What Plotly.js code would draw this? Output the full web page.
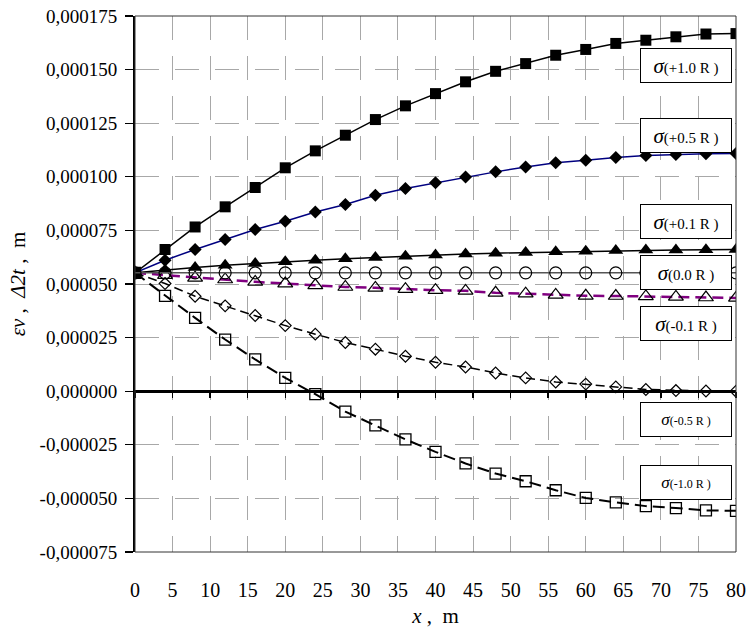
<!DOCTYPE html>
<html><head><meta charset="utf-8">
<script src="https://cdn.plot.ly/plotly-3.0.1.min.js"></script>
<style>html,body{margin:0;padding:0;background:#fff}#chart{width:747px;height:637px}</style>
</head><body><div id="chart"></div>
<script>
const xValues = [0, 4, 8, 12, 16, 20, 24, 28, 32, 36, 40, 44, 48, 52, 56, 60, 64, 68, 72, 76, 80];

const sigmaPlus10 = [55.2e-6, 66.1e-6, 76.6e-6, 86.0e-6, 95.0e-6, 104.2e-6, 112.1e-6, 119.4e-6, 126.7e-6, 133.1e-6, 138.8e-6,
  144.3e-6, 149.2e-6, 152.8e-6, 156.7e-6, 159.4e-6, 162.2e-6, 163.7e-6, 165.3e-6, 166.6e-6, 166.8e-6];
const sigmaPlus05 = [55.2e-6, 61.1e-6, 66.1e-6, 70.8e-6, 75.4e-6, 79.3e-6, 83.6e-6, 87.1e-6, 91.4e-6, 94.5e-6, 97.2e-6,
  99.9e-6, 102.3e-6, 104.6e-6, 106.5e-6, 107.7e-6, 109.0e-6, 109.9e-6, 110.4e-6, 110.7e-6, 110.9e-6];
const sigmaPlus01 = [55.2e-6, 56.5e-6, 57.7e-6, 58.7e-6, 59.6e-6, 60.4e-6, 61.1e-6, 61.8e-6, 62.4e-6, 63.0e-6, 63.5e-6,
  64.0e-6, 64.4e-6, 64.7e-6, 65.0e-6, 65.3e-6, 65.6e-6, 65.8e-6, 65.9e-6, 66.0e-6, 66.1e-6];
const sigmaZero = [55.2e-6, 55.2e-6, 55.2e-6, 55.2e-6, 55.2e-6, 55.2e-6, 55.2e-6, 55.2e-6, 55.2e-6, 55.2e-6, 55.2e-6,
  55.2e-6, 55.2e-6, 55.2e-6, 55.2e-6, 55.2e-6, 55.2e-6, 55.2e-6, 55.2e-6, 55.2e-6, 55.2e-6];
const sigmaMinus01 = [55.2e-6, 54.1e-6, 52.9e-6, 52.1e-6, 51.0e-6, 50.2e-6, 49.4e-6, 48.6e-6, 48.2e-6, 47.6e-6, 47.1e-6,
  46.8e-6, 45.9e-6, 45.5e-6, 44.9e-6, 44.5e-6, 44.4e-6, 44.2e-6, 44.0e-6, 43.7e-6, 43.5e-6];
const sigmaMinus05 = [55.2e-6, 50.2e-6, 44.3e-6, 39.8e-6, 35.3e-6, 30.6e-6, 26.6e-6, 22.7e-6, 19.6e-6, 16.3e-6, 13.5e-6,
  11.3e-6, 8.5e-6, 6.2e-6, 4.3e-6, 3.3e-6, 2.0e-6, 0.8e-6, 0.3e-6, 0.1e-6, 0.0];
const sigmaMinus10 = [55.2e-6, 44.5e-6, 34.2e-6, 24.1e-6, 14.8e-6, 6.2e-6, -1.4e-6, -9.5e-6, -15.9e-6, -22.5e-6, -28.3e-6,
  -33.7e-6, -38.4e-6, -42.0e-6, -46.2e-6, -49.8e-6, -51.9e-6, -53.6e-6, -54.5e-6, -55.6e-6, -55.8e-6];

const seriesLabels = ['(+1.0 R )', '(+0.5 R )', '(+0.1 R )', '(0.0 R )', '(-0.1 R )', '(-0.5 R )', '(-1.0 R )'];
const yTickValues = [-75e-6, -50e-6, -25e-6, 0, 25e-6, 50e-6, 75e-6, 100e-6, 125e-6, 150e-6, 175e-6];
const yTickLabels = ['-0,000075', '-0,000050', '-0,000025', '0,000000', '0,000025', '0,000050', '0,000075',
  '0,000100', '0,000125', '0,000150', '0,000175'];
const xTickValues = [0, 5, 10, 15, 20, 25, 30, 35, 40, 45, 50, 55, 60, 65, 70, 75, 80];

const serif = 'Liberation Serif';

function trace(y, lineStyle, markerStyle, xaxis) {
  return {
    x: xValues, y: y, type: 'scatter', mode: 'lines+markers',
    line: lineStyle, marker: markerStyle, xaxis: xaxis || 'x', yaxis: 'y',
    hoverinfo: 'skip', showlegend: false
  };
}

const data = [
  trace(sigmaMinus10, {color: '#000', width: 2, dash: '12px,6px'},
        {symbol: 'square-open', size: 11, color: '#000', line: {width: 1.3}}),
  trace(sigmaMinus05, {color: '#000', width: 1.5, dash: '9px,5px'},
        {symbol: 'diamond-open', size: 9, color: '#000', line: {width: 1.2}}),
  trace(sigmaMinus01, {color: '#800080', width: 2.5, dash: '11px,6px'},
        {symbol: 'triangle-up-open', size: 13, color: '#000', line: {width: 1.2}}),
  trace(sigmaZero, {color: '#555', width: 1.5},
        {symbol: 'circle-open', size: 12, color: '#000', line: {width: 1.2}}, 'x2'),
  trace(sigmaPlus01, {color: '#000', width: 1.5},
        {symbol: 'triangle-up', size: 13, color: '#000'}),
  trace(sigmaPlus05, {color: '#000080', width: 1.5},
        {symbol: 'diamond', size: 10, color: '#000'}),
  trace(sigmaPlus10, {color: '#000', width: 1.5},
        {symbol: 'square', size: 11, color: '#000'})
];

const boxY = [0.908, 0.777, 0.617, 0.522, 0.427, 0.248, 0.130];
const annotations = seriesLabels.map(function (lab, i) {
  const small = i >= 5;
  return {
    xref: 'paper', yref: 'paper', x: 0.993, y: boxY[i], xanchor: 'right', yanchor: 'middle',
    text: '<span style="font-size:' + (small ? 17 : 21) + 'px"><i>σ</i></span>' + lab,
    showarrow: false, font: {family: serif, size: small ? 12 : 15, color: '#000'},
    bgcolor: '#fff', bordercolor: '#000', borderwidth: 1, borderpad: 1,
    width: 88, height: 31, align: 'center', valign: 'middle'
  };
});

const gridDash = '24px,16px';
const gridColor = '#a8a8a8';

const layout = {
  width: 747, height: 637,
  margin: {l: 135, r: 11, t: 16, b: 85},
  paper_bgcolor: '#fff', plot_bgcolor: '#fff',
  font: {family: serif, color: '#000'},
  showlegend: false,
  xaxis: {
    range: [0, 80], tickvals: xTickValues, ticktext: xTickValues.map(String),
    showgrid: true, gridcolor: gridColor, gridwidth: 1, griddash: gridDash,
    ticks: '', showline: false, zeroline: false,
    tickfont: {size: 20, family: serif, color: '#000'}, ticklabelstandoff: 24,
    title: {text: '<i>x</i> ,  m', font: {size: 21, family: serif, color: '#000'}, standoff: 8}
  },
  xaxis2: {
    overlaying: 'x', anchor: 'free', position: 0.3, range: [0, 80], tickvals: xTickValues,
    ticks: 'outside', ticklen: 6, tickwidth: 1.5, tickcolor: '#000',
    showticklabels: false, showgrid: false, zeroline: false, showline: false
  },
  yaxis: {
    range: [-75e-6, 175e-6], tickvals: yTickValues, ticktext: yTickLabels,
    ticks: 'outside', ticklen: 8, tickwidth: 1.2, tickcolor: '#000',
    showline: true, linecolor: '#000', linewidth: 2,
    showgrid: true, gridcolor: gridColor, gridwidth: 1, griddash: gridDash,
    zeroline: true, zerolinecolor: '#000', zerolinewidth: 3,
    tickfont: {size: 19, family: serif, color: '#000'}, ticklabelstandoff: 4,
    title: {text: '<i>εv</i> ,  <i>Δ2t</i> ,  m', font: {size: 21, family: serif, color: '#000'}, standoff: 8}
  },
  shapes: [{type: 'rect', xref: 'paper', yref: 'paper', x0: 0, x1: 1, y0: 0, y1: 1,
            line: {color: '#333', width: 1}, layer: 'above'}],
  annotations: annotations
};

Plotly.newPlot('chart', data, layout, {displayModeBar: false, staticPlot: true});
</script>
</body></html>
